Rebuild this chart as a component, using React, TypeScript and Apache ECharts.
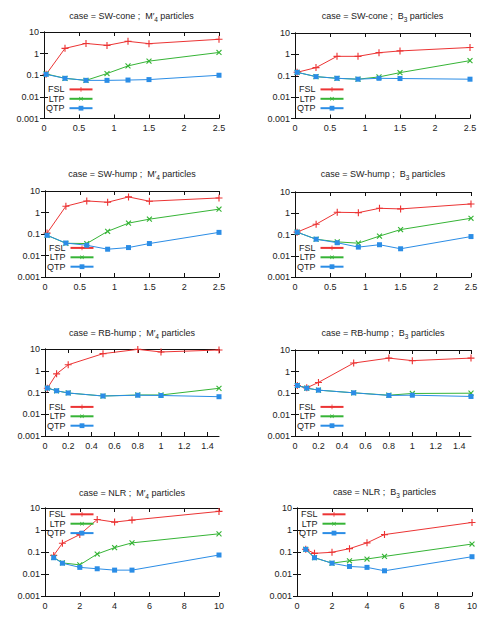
import React, { useEffect, useRef } from "react";
import * as echarts from "echarts";

const FONT = "'Liberation Sans', Arial, Helvetica, sans-serif";

// abscissae of the four test cases
const xSwCone = [0.03, 0.3, 0.6, 0.9, 1.2, 1.5, 2.5];
const xSwHump = [0.03, 0.3, 0.6, 0.9, 1.2, 1.5, 2.5];
const xRbHump = [0.02, 0.1, 0.2, 0.5, 0.8, 1.0, 1.5];
const xNlr = [0.5, 1, 2, 3, 4, 5, 10];

// SW-cone
const fslSwConeM4 = [0.11, 1.75, 2.95, 2.4, 3.7, 2.9, 4.6];
const ltpSwConeM4 = [0.115, 0.072, 0.058, 0.12, 0.27, 0.45, 1.13];
const qtpSwConeM4 = [0.11, 0.072, 0.058, 0.058, 0.06, 0.063, 0.1];
const fslSwConeB3 = [0.145, 0.24, 0.81, 0.81, 1.2, 1.45, 2.1];
const ltpSwConeB3 = [0.145, 0.091, 0.076, 0.069, 0.088, 0.14, 0.51];
const qtpSwConeB3 = [0.145, 0.091, 0.076, 0.069, 0.076, 0.074, 0.069];

// SW-hump
const fslSwHumpM4 = [0.11, 1.96, 3.45, 3.0, 5.3, 3.35, 4.75];
const ltpSwHumpM4 = [0.087, 0.037, 0.036, 0.133, 0.32, 0.49, 1.43];
const qtpSwHumpM4 = [0.087, 0.038, 0.03, 0.0196, 0.0234, 0.036, 0.119];
const fslSwHumpB3 = [0.129, 0.305, 1.11, 1.07, 1.71, 1.6, 2.74];
const ltpSwHumpB3 = [0.129, 0.06, 0.045, 0.039, 0.084, 0.17, 0.58];
const qtpSwHumpB3 = [0.129, 0.06, 0.041, 0.0255, 0.033, 0.0213, 0.08];

// RB-hump
const fslRbHumpM4 = [0.156, 0.72, 1.88, 6.1, 9.6, 7.3, 9.0];
const ltpRbHumpM4 = [0.16, 0.12, 0.095, 0.069, 0.077, 0.077, 0.156];
const qtpRbHumpM4 = [0.16, 0.12, 0.095, 0.069, 0.075, 0.073, 0.064];
const fslRbHumpB3 = [0.224, 0.174, 0.31, 2.47, 4.2, 3.2, 4.2];
const ltpRbHumpB3 = [0.224, 0.168, 0.136, 0.102, 0.079, 0.095, 0.098];
const qtpRbHumpB3 = [0.224, 0.168, 0.136, 0.102, 0.077, 0.079, 0.069];

// NLR
const fslNlrM4 = [0.07, 0.25, 0.62, 3.0, 2.29, 2.82, 7.0];
const ltpNlrM4 = [0.057, 0.032, 0.026, 0.081, 0.158, 0.26, 0.67];
const qtpNlrM4 = [0.055, 0.031, 0.02, 0.0173, 0.015, 0.015, 0.073];
const fslNlrB3 = [0.132, 0.087, 0.097, 0.142, 0.26, 0.62, 2.2];
const ltpNlrB3 = [0.132, 0.055, 0.031, 0.04, 0.048, 0.063, 0.23];
const qtpNlrB3 = [0.132, 0.055, 0.031, 0.022, 0.02, 0.014, 0.061];

const methodNames = ["FSL", "LTP", "QTP"];
const yMin = 0.001;
const yMax = 10;

const COLORS = ["#ec3434", "#36b436", "#2b8de6"];
const PLUS = "path://M4.2,0H5.8V4.2H10V5.8H5.8V10H4.2V5.8H0V4.2H4.2Z";
const SYMBOLS = [PLUS, PLUS, "rect"];
const SYMBOL_ROTATE = [0, 45, 0];
const SYMBOL_SIZE = [7, 7, 5];

type Panel = {
  caseName: string;
  particle: "M4" | "B3";
  x: number[];
  series: number[][];
  xMax: number;
  xStep: number;
  left: number;
  top: number;
  width: number;
  height: number;
  legendAtTop: boolean;
};

const panels: Panel[] = [
  { caseName: "SW-cone", particle: "M4", x: xSwCone, series: [fslSwConeM4, ltpSwConeM4, qtpSwConeM4], xMax: 2.5, xStep: 0.5, left: 44, top: 32, width: 175, height: 86.5, legendAtTop: false },
  { caseName: "SW-cone", particle: "B3", x: xSwCone, series: [fslSwConeB3, ltpSwConeB3, qtpSwConeB3], xMax: 2.5, xStep: 0.5, left: 295, top: 33, width: 175, height: 85.5, legendAtTop: false },
  { caseName: "SW-hump", particle: "M4", x: xSwHump, series: [fslSwHumpM4, ltpSwHumpM4, qtpSwHumpM4], xMax: 2.5, xStep: 0.5, left: 45, top: 191, width: 174, height: 86, legendAtTop: false },
  { caseName: "SW-hump", particle: "B3", x: xSwHump, series: [fslSwHumpB3, ltpSwHumpB3, qtpSwHumpB3], xMax: 2.5, xStep: 0.5, left: 295, top: 192, width: 176, height: 85, legendAtTop: false },
  { caseName: "RB-hump", particle: "M4", x: xRbHump, series: [fslRbHumpM4, ltpRbHumpM4, qtpRbHumpM4], xMax: 1.5, xStep: 0.2, left: 45, top: 349, width: 174, height: 87, legendAtTop: false },
  { caseName: "RB-hump", particle: "B3", x: xRbHump, series: [fslRbHumpB3, ltpRbHumpB3, qtpRbHumpB3], xMax: 1.5, xStep: 0.2, left: 295, top: 350, width: 176, height: 86, legendAtTop: false },
  { caseName: "NLR", particle: "M4", x: xNlr, series: [fslNlrM4, ltpNlrM4, qtpNlrM4], xMax: 10, xStep: 2, left: 45, top: 508, width: 174, height: 88, legendAtTop: true },
  { caseName: "NLR", particle: "B3", x: xNlr, series: [fslNlrB3, ltpNlrB3, qtpNlrB3], xMax: 10, xStep: 2, left: 297, top: 508, width: 175, height: 88, legendAtTop: true },
];

const titleY = [16, 16, 174, 174, 333, 333, 493, 492];

const TEXT_COLOR = "#222";
const AXIS_COLOR = "#111";

function fmtLog(v: number) {
  const n = Number(v);
  if (n >= 1) return String(Math.round(n));
  return String(parseFloat(n.toPrecision(2)));
}

function buildOption() {
  const grid: any[] = [];
  const xAxis: any[] = [];
  const yAxis: any[] = [];
  const series: any[] = [];
  const legend: any[] = [];
  const graphic: any[] = [];

  panels.forEach((p, i) => {
    grid.push({ left: p.left, top: p.top, width: p.width, height: p.height, containLabel: false });

    const xBase = {
      type: "value",
      gridIndex: i,
      min: 0,
      max: p.xMax,
      interval: p.xStep,
      axisLine: { show: true, lineStyle: { color: AXIS_COLOR, width: 1 } },
      axisTick: { show: true, inside: true, length: 4, lineStyle: { color: AXIS_COLOR } },
      splitLine: { show: false },
    };
    xAxis.push({
      ...xBase,
      position: "bottom",
      axisLabel: { show: true, margin: 5, fontSize: 9, color: TEXT_COLOR, fontFamily: FONT },
    });
    xAxis.push({ ...xBase, position: "top", axisLabel: { show: false } });

    const yBase = {
      type: "log",
      logBase: 10,
      gridIndex: i,
      min: yMin,
      max: yMax,
      axisLine: { show: true, lineStyle: { color: AXIS_COLOR, width: 1 } },
      axisTick: { show: true, inside: true, length: 4, lineStyle: { color: AXIS_COLOR } },
      splitLine: { show: false },
      minorTick: { show: false },
    };
    yAxis.push({
      ...yBase,
      position: "left",
      axisLabel: { show: true, margin: 5, fontSize: 9, color: TEXT_COLOR, fontFamily: FONT, formatter: fmtLog },
    });
    yAxis.push({ ...yBase, position: "right", axisLabel: { show: false } });

    p.series.forEach((vals, k) => {
      series.push({
        type: "line",
        name: methodNames[k],
        xAxisIndex: 2 * i,
        yAxisIndex: 2 * i,
        data: p.x.map((xv, j) => [xv, vals[j]]),
        symbol: SYMBOLS[k],
        symbolSize: SYMBOL_SIZE[k],
        symbolRotate: SYMBOL_ROTATE[k],
        showSymbol: true,
        lineStyle: { color: COLORS[k], width: 1 },
        itemStyle: { color: COLORS[k] },
        z: 2 + k,
      });
    });

    // legend rows are ~10.7px apart; first row centre given below
    const firstRow = p.legendAtTop ? p.top + 7 : p.top + p.height - 7 - 21.4;
    legend.push({
      data: methodNames,
      orient: "vertical",
      left: p.left + 2,
      top: firstRow - 5.2,
      padding: 0,
      itemWidth: 23,
      itemHeight: 6,
      itemGap: 0.4,
      align: "right",
      selectedMode: false,
      textStyle: { fontSize: 9, color: TEXT_COLOR, fontFamily: FONT },
    });

    const particleText = p.particle === "M4" ? "M{p|\u2032}{s|4}" : "B{s|3}";
    graphic.push({
      type: "text",
      x: p.left + p.width / 2,
      y: titleY[i],
      style: {
        text: `case = ${p.caseName} ;  ${particleText} particles`,
        fontSize: 9,
        fontFamily: FONT,
        fill: TEXT_COLOR,
        align: "center",
        verticalAlign: "middle",
        lineHeight: 14,
        rich: {
          p: { fontSize: 9, fontFamily: FONT, fill: TEXT_COLOR, width: 1.5, lineHeight: 14 },
          s: { fontSize: 6.5, fontFamily: FONT, fill: TEXT_COLOR, verticalAlign: "bottom", lineHeight: 14 },
        },
      },
    });
  });

  return {
    animation: false,
    backgroundColor: "#ffffff",
    textStyle: { fontFamily: FONT },
    grid,
    xAxis,
    yAxis,
    series,
    legend,
    graphic,
  };
}

export default function App() {
  const ref = useRef<HTMLDivElement>(null);
  useEffect(() => {
    if (!ref.current) return;
    const chart = echarts.init(ref.current, null, { renderer: "svg" });
    chart.setOption(buildOption() as any);
    return () => chart.dispose();
  }, []);
  return (
    <div
      ref={ref}
      style={{ position: "absolute", left: 0, top: 0, width: 489, height: 622, background: "#fff" }}
    />
  );
}
